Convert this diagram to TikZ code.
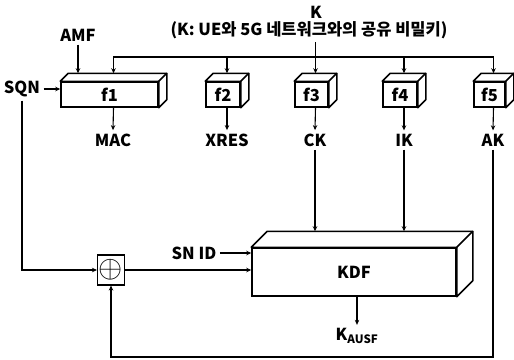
\documentclass[tikz,border=0pt]{standalone}
\usepackage{fontspec}
\setmainfont{Noto Sans CJK KR}
\usetikzlibrary{arrows.meta}

% 3D faces behind a box node: #1 node name, #2 depth
\newcommand\drawdepth[2]{%
  \draw[line width=1.5pt,line join=round,fill=white]
    (#1.north west) -- ++(#2,#2) -- ([shift={(#2,#2)}]#1.north east)
    -- ([shift={(#2,#2)}]#1.south east) -- (#1.south east)
    -- (#1.north east) -- cycle;
  \draw[line width=1.5pt,line join=round] (#1.north east) -- ++(#2,#2);}

\begin{document}
\begin{tikzpicture}[x=1pt,y=-1pt,>={Stealth[length=5pt,width=4.5pt]},
  font=\bfseries\fontsize{16.5}{18}\selectfont,
  fbox/.style={draw,line width=1.5pt,fill=white,inner sep=0pt,minimum height=25pt},
  conn/.style={line width=1.1pt}]
\useasboundingbox (0,0) rectangle (514,359);

\node (K) at (316,12) {K};
\node (Kdesc) at (309,30) {(K: UE와 5G 네트워크와의 공유 비밀키)};
\node (AMF) at (78,35) {AMF};
\node (SQN) at (22,89) {SQN};

% f1 ... f5
\node[fbox,minimum width=97pt] (f1) at (109.5,94.5) {f1};
\node[fbox,minimum width=34pt] (f2) at (223,94.5) {f2};
\node[fbox,minimum width=33pt] (f3) at (311.5,94.5) {f3};
\node[fbox,minimum width=34pt] (f4) at (400,94.5) {f4};
\node[fbox,minimum width=31pt] (f5) at (489.5,94.5) {f5};
\foreach \f in {f1,f2,f3,f4,f5} {
  \drawdepth{\f}{8pt}
  \coordinate (\f-in) at ([shift={(4pt,8pt)}]\f.north);
}

\node (MAC) at (113,140) {MAC};
\node (XRES) at (227,140) {XRES};
\node (CK) at (315,140) {CK};
\node (IK) at (404,140) {IK};
\node (AK) at (493,140) {AK};

% KDF
\node[fbox,minimum width=204pt,minimum height=48pt] (KDF) at (354,272) {KDF};
\drawdepth{KDF}{16pt}
\coordinate (KDF-in) at ([yshift=16pt]KDF.north);
\node (Kausf) at (357,336) {K\textsubscript{AUSF}};

\node[draw,line width=1.1pt,minimum width=27pt,minimum height=30pt,inner sep=0pt]
  (xor) at (111,270) {\scalebox{1.8}{$\oplus$}};
\node (SNID) at (194,253) {SN ID};

% K bus
\coordinate (bus) at (314,57);
\draw[conn,->] (Kdesc.south -| f3-in) -- (f3-in);
\foreach \f in {f1,f2,f4,f5}
  \draw[conn,->] (bus) -| (\f-in);
\draw[conn,->] (AMF.south) -- (AMF.south |- f1-in);
\draw[conn,->] (SQN.east) -- (SQN.east -| f1.west);

\foreach \f/\o in {f1/MAC,f2/XRES,f3/CK,f4/IK,f5/AK}
  \draw[conn,->] (\f.south -| \f-in) -- (\o.north);

\draw[conn,->] (CK.south) -- (CK.south |- KDF-in);
\draw[conn,->] (IK.south) -- (IK.south |- KDF-in);
\draw[conn,->] (KDF.south -| Kausf) -- (Kausf.north);

\draw[conn,->] (SQN.south) |- (xor.west);
\draw[conn,->] (xor.east) -- (xor.east -| KDF.west);
\draw[conn,->] (SNID.east) -- (SNID.east -| KDF.west);
\coordinate (loop) at (300,357);
\draw[conn,->] (AK.south) |- (loop) -| (xor.south);
\end{tikzpicture}
\end{document}
